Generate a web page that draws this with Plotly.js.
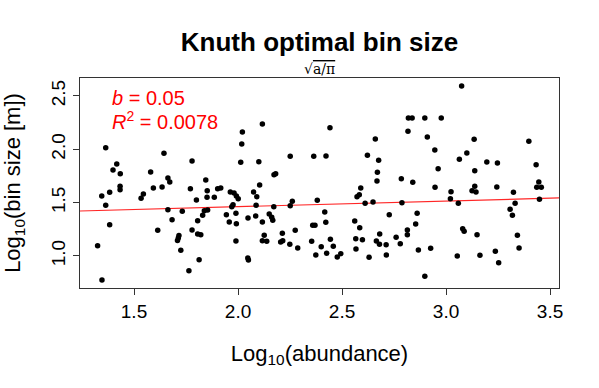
<!DOCTYPE html>
<html>
<head>
<meta charset="utf-8">
<script src="https://cdn.plot.ly/plotly-3.0.1.min.js"></script>
<style>
	html, body { margin: 0; padding: 0; background: #fff; }
	#knuth { width: 599px; height: 388px; }
</style>
</head>
<body>
<div id="knuth"></div>
<script>
'use strict';

// log10(abundance) per species
const logAbundance = [
	1.364,1.417,1.399,1.434,1.433,1.433,1.383,1.345,1.364,1.383,1.325,1.346,1.644,1.580,1.663,1.672,1.593,1.635,1.545,1.534,1.663,1.683,1.614,1.716,1.713,1.709,1.725,
	2.117,2.021,2.018,1.779,2.013,2.100,1.845,1.771,1.852,1.902,1.917,1.963,1.981,1.992,2.001,2.075,2.090,2.104,1.800,1.886,1.851,1.976,1.970,2.087,1.732,1.838,1.854,1.830,
	1.806,1.944,1.990,1.958,1.992,2.048,2.085,2.117,2.150,2.162,2.167,1.779,1.806,1.821,1.990,2.126,2.117,2.138,1.813,2.047,2.050,1.764,
	2.442,2.251,2.364,2.423,2.622,2.173,2.181,2.590,2.572,2.583,2.611,2.381,2.261,2.251,2.172,2.417,2.422,2.561,2.585,2.359,2.370,2.275,2.213,2.215,2.205,2.249,2.287,2.354,
	2.444,2.458,2.400,2.426,2.374,2.494,2.477,2.566,2.598,2.567,2.630,
	3.075,2.819,2.837,2.898,2.977,2.817,2.660,2.910,2.946,2.676,3.064,2.670,2.962,2.668,2.785,2.840,2.947,3.024,3.021,2.649,2.788,3.059,2.727,2.861,2.854,2.814,2.814,2.681,
	2.665,2.680,2.712,2.760,2.780,2.867,2.926,2.713,2.898,3.054,3.080,3.087,
	3.135,3.398,3.100,3.196,3.247,3.138,3.433,3.138,3.125,3.144,3.244,3.446,3.436,3.458,3.324,3.332,3.449,3.308,3.319,3.149,3.343,3.351,3.163,3.237,3.253
];

// log10(bin size [m]), same order
const logBinSize = [
	2.015,1.862,1.806,1.771,1.653,1.621,1.597,1.562,1.475,1.293,1.097,0.775,1.963,1.787,1.731,1.694,1.637,1.647,1.581,1.541,1.434,1.340,1.241,1.192,1.169,1.145,1.053,
	2.237,2.162,2.050,1.890,1.878,1.884,1.712,1.631,1.612,1.631,1.637,1.600,1.590,1.562,1.537,1.600,1.556,1.665,1.525,1.550,1.550,1.481,1.462,1.475,1.419,1.425,1.431,1.381,
	1.331,1.387,1.400,1.319,1.303,1.356,1.375,1.319,1.394,1.363,1.335,1.244,1.206,1.200,1.141,1.194,1.143,1.138,0.965,0.981,0.963,0.862,
	2.202,1.934,1.934,1.937,1.944,1.762,1.771,1.637,1.556,1.575,1.494,1.522,1.513,1.471,1.462,1.412,1.316,1.328,1.265,1.288,1.288,1.241,1.213,1.143,1.131,1.110,1.075,1.138,
	1.157,1.091,1.087,1.025,1.009,1.022,0.991,1.162,1.153,1.066,0.988,
	2.593,2.293,2.293,2.293,2.293,2.169,2.097,2.115,1.993,1.897,1.906,1.784,1.818,1.703,1.724,1.691,1.644,1.603,1.537,1.506,1.500,1.494,1.387,1.400,1.300,1.244,1.200,1.206,
	1.141,1.110,1.106,1.175,1.115,1.056,1.072,1.009,0.810,1.000,1.256,1.231,
	2.094,2.075,1.965,1.881,1.872,1.799,1.856,1.653,1.612,1.600,1.647,1.694,1.644,1.644,1.597,1.494,1.531,1.438,1.381,1.200,1.194,1.075,1.007,1.044,0.937
];

// linear fit (abline)
const fitIntercept = 1.356;
const fitSlope = 0.053;
const fitLabels = ['<i>b</i> = 0.05', '<i>R</i><sup>2</sup> = 0.0078'];

// axis ticks
const xTicks = [1.5, 2.0, 2.5, 3.0, 3.5];
const yTicks = [1.0, 1.5, 2.0, 2.5];

(function () {

	const font = 'Liberation Sans, Arial, Helvetica, sans-serif';
	const xRange = [1.2404, 3.543];
	const yRange = [0.70, 2.668];

	const points = {
		x: logAbundance,
		y: logBinSize,
		type: 'scatter',
		mode: 'markers',
		marker: { color: '#000', size: 5.5 },
		hoverinfo: 'x+y',
	};

	// regression line spans the whole plot box, like abline()
	const fitLine = {
		x: xRange,
		y: xRange.map(v => fitIntercept + fitSlope * v),
		type: 'scatter',
		mode: 'lines',
		line: { color: 'rgba(255,0,0,0.85)', width: 1.2 },
		hoverinfo: 'skip',
	};

	const axis = ( ticks, range ) => ({
		range,
		tickvals: ticks,
		ticktext: ticks.map(t => t.toFixed(1)),
		ticks: 'outside',
		ticklen: 6,
		tickcolor: '#333',
		tickwidth: 1,
		tickfont: { family: font, size: 19, color: '#000' },
		showline: true,
		mirror: true,
		linecolor: '#333',
		linewidth: 1,
		showgrid: false,
		zeroline: false,
	});

	const xaxis = Object.assign(axis( xTicks, xRange ), {
		title: {
			text: 'Log<sub>10</sub>(abundance)',
			font: { family: font, size: 22, color: '#000' },
			standoff: 24,
		},
	});

	const yaxis = Object.assign(axis( yTicks, yRange ), {
		tickangle: -90,
		title: {
			text: 'Log<sub>10</sub>(bin size [m])',
			font: { family: font, size: 22, color: '#000' },
			standoff: 22,
		},
	});

	const annotations = [
		{
			text: '√<span style="text-decoration:overline">a/π</span>',
			xref: 'paper', yref: 'paper',
			x: 0.5, y: 1.043, yanchor: 'middle',
			showarrow: false,
			font: { family: 'DejaVu Serif, Liberation Serif, serif', size: 14, color: '#000' },
		},
	].concat( fitLabels.map(( txt, i ) => ({
		text: txt,
		xref: 'paper', yref: 'paper',
		xanchor: 'left', yanchor: 'middle',
		x: 0.062, y: 0.905 - i * 0.105,
		showarrow: false,
		font: { family: font, size: 20, color: '#ff0000' },
	})));

	const layout = {
		width: 599,
		height: 388,
		margin: { l: 80, r: 40, t: 78, b: 100 },
		paper_bgcolor: '#fff',
		plot_bgcolor: '#fff',
		showlegend: false,
		title: {
			text: '<b>Knuth optimal bin size</b>',
			font: { family: font, size: 26, color: '#000' },
			xref: 'paper', x: 0.5,
			yref: 'container', y: 0.892, yanchor: 'middle',
		},
		xaxis,
		yaxis,
		annotations,
	};

	Plotly.newPlot('knuth', [ fitLine, points ], layout, { displayModeBar: false, staticPlot: true });

})();
</script>
</body>
</html>
